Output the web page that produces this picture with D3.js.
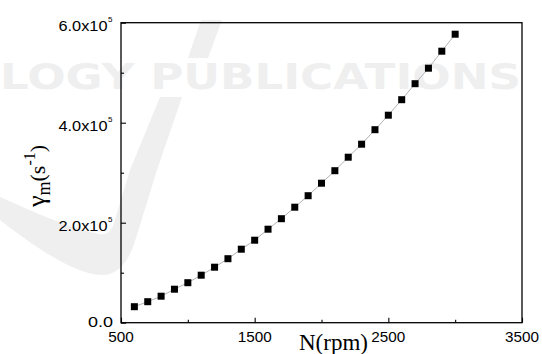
<!DOCTYPE html>
<html><head><meta charset="utf-8">
<script src="https://cdn.jsdelivr.net/npm/d3@7"></script>
<style>body{margin:0;background:#fff}svg{display:block}</style>
</head><body>
<svg id="c" width="542" height="354"></svg>
<script>
const rpm = [600,700,800,900,1000,1100,1200,1300,1400,1500,1600,1700,1800,1900,2000,2100,2200,2300,2400,2500,2600,2700,2800,2900,3000];
const gamma = [32000,42000,53000,67000,80000,95000,111000,128000,147000,165000,187000,208000,231000,254000,279000,304000,331000,357000,386000,415000,446000,478000,509000,543000,577000];
const xMajor = [500,1500,2500,3500];
const xMinor = [1000,2000,3000];
const yMajor = [0,200000,400000,600000];
const yMinor = [100000,300000,500000];
const yTickMantissa = ["0.0","2.0","4.0","6.0"];

const svg = d3.select("#c");
const L = 121, R = 522, T = 22.7, B = 322.7;
const x = d3.scaleLinear().domain([500,3500]).range([L,R]);
const y = d3.scaleLinear().domain([0,600000]).range([B,T]);

// faint watermark
const wm = svg.append("g").attr("fill","#efefef");
wm.append("path").attr("d","M201,20 L222,20 L208,58 L188,58 Z");
wm.append("path").attr("d","M160,97 L182,97 L157,170 L136,238 C130,258 122,272 105,275 C80,276 45,255 0,220 L0,197 C40,215 75,230 100,234 C106,235 110,232 113,226 L130,170 Z");
wm.append("text").attr("x",0).attr("y",89).attr("font-family","DejaVu Sans").attr("font-weight","bold")
  .attr("font-size",35).attr("textLength",521).attr("lengthAdjust","spacingAndGlyphs").text("LOGY PUBLICATIONS");

// line and markers
const pts = rpm.map((r,i)=>[r,gamma[i]]);
svg.append("path").datum(pts)
  .attr("fill","none").attr("stroke","#aaa").attr("stroke-width",0.9)
  .attr("d", d3.line().x(d=>x(d[0])).y(d=>y(d[1])));
svg.append("g").selectAll("rect").data(pts).join("rect")
  .attr("x",d=>x(d[0])-3.5).attr("y",d=>y(d[1])-3.5).attr("width",7).attr("height",7).attr("fill","#000");

// frame
svg.append("rect").attr("x",L).attr("y",T).attr("width",R-L).attr("height",B-T)
  .attr("fill","none").attr("stroke","#000").attr("stroke-width",1.3);

// inward ticks
function ticks(axisGen, tx, ty) {
  const g = svg.append("g").attr("transform",`translate(${tx},${ty})`).call(axisGen);
  g.select(".domain").remove();
  g.selectAll(".tick line").attr("stroke","#000").attr("stroke-width",1.1);
}
ticks(d3.axisBottom(x).tickValues(xMajor).tickSize(-5).tickFormat(""), 0, B);
ticks(d3.axisBottom(x).tickValues(xMinor).tickSize(-3).tickFormat(""), 0, B);
ticks(d3.axisLeft(y).tickValues(yMajor).tickSize(-5).tickFormat(""), L, 0);
ticks(d3.axisLeft(y).tickValues(yMinor).tickSize(-3).tickFormat(""), L, 0);

const font = "Liberation Sans, Arial, sans-serif";
// x tick labels
svg.append("g").selectAll("text").data(xMajor).join("text")
  .attr("x",d=>x(d)).attr("y",342).attr("text-anchor","middle")
  .attr("font-family",font).attr("font-size",14).attr("textLength",d=>String(d).length*8.5)
  .attr("lengthAdjust","spacingAndGlyphs").attr("fill","#000").text(d=>d);

// y tick labels
yMajor.forEach((v,i)=>{
  if (v===0) {
    svg.append("text").attr("x",113).attr("y",y(v)+4).attr("text-anchor","end")
      .attr("font-family",font).attr("font-size",14).attr("textLength",25).attr("lengthAdjust","spacingAndGlyphs")
      .attr("fill","#000").text(yTickMantissa[i]);
  } else {
    svg.append("text").attr("x",107.5).attr("y",y(v)+8).attr("text-anchor","end")
      .attr("font-family",font).attr("font-size",14).attr("textLength",49).attr("lengthAdjust","spacingAndGlyphs")
      .attr("fill","#000").text(yTickMantissa[i]+"x10");
    svg.append("text").attr("x",108).attr("y",y(v)-1).attr("text-anchor","start")
      .attr("font-family",font).attr("font-size",8).attr("fill","#000").text("5");
  }
});

// x label
svg.append("text").attr("x",333.5).attr("y",349.5).attr("text-anchor","middle")
  .attr("font-family","Liberation Serif, Times New Roman, serif").attr("font-size",23).attr("fill","#000").text("N(rpm)");

// y label
const yl = svg.append("text").attr("transform","translate(45,207) rotate(-90)").attr("text-anchor","start")
  .attr("font-family","Liberation Serif, Times New Roman, serif").attr("font-size",22).attr("fill","#000");
yl.append("tspan").attr("font-size",26).text("γ");
yl.append("tspan").attr("font-size",18).attr("dy",5).text("m");
yl.append("tspan").attr("dy",-5).text("(s");
yl.append("tspan").attr("font-size",16).attr("dy",-10).text("-1");
yl.append("tspan").attr("dy",10).text(")");
</script>
</body></html>
